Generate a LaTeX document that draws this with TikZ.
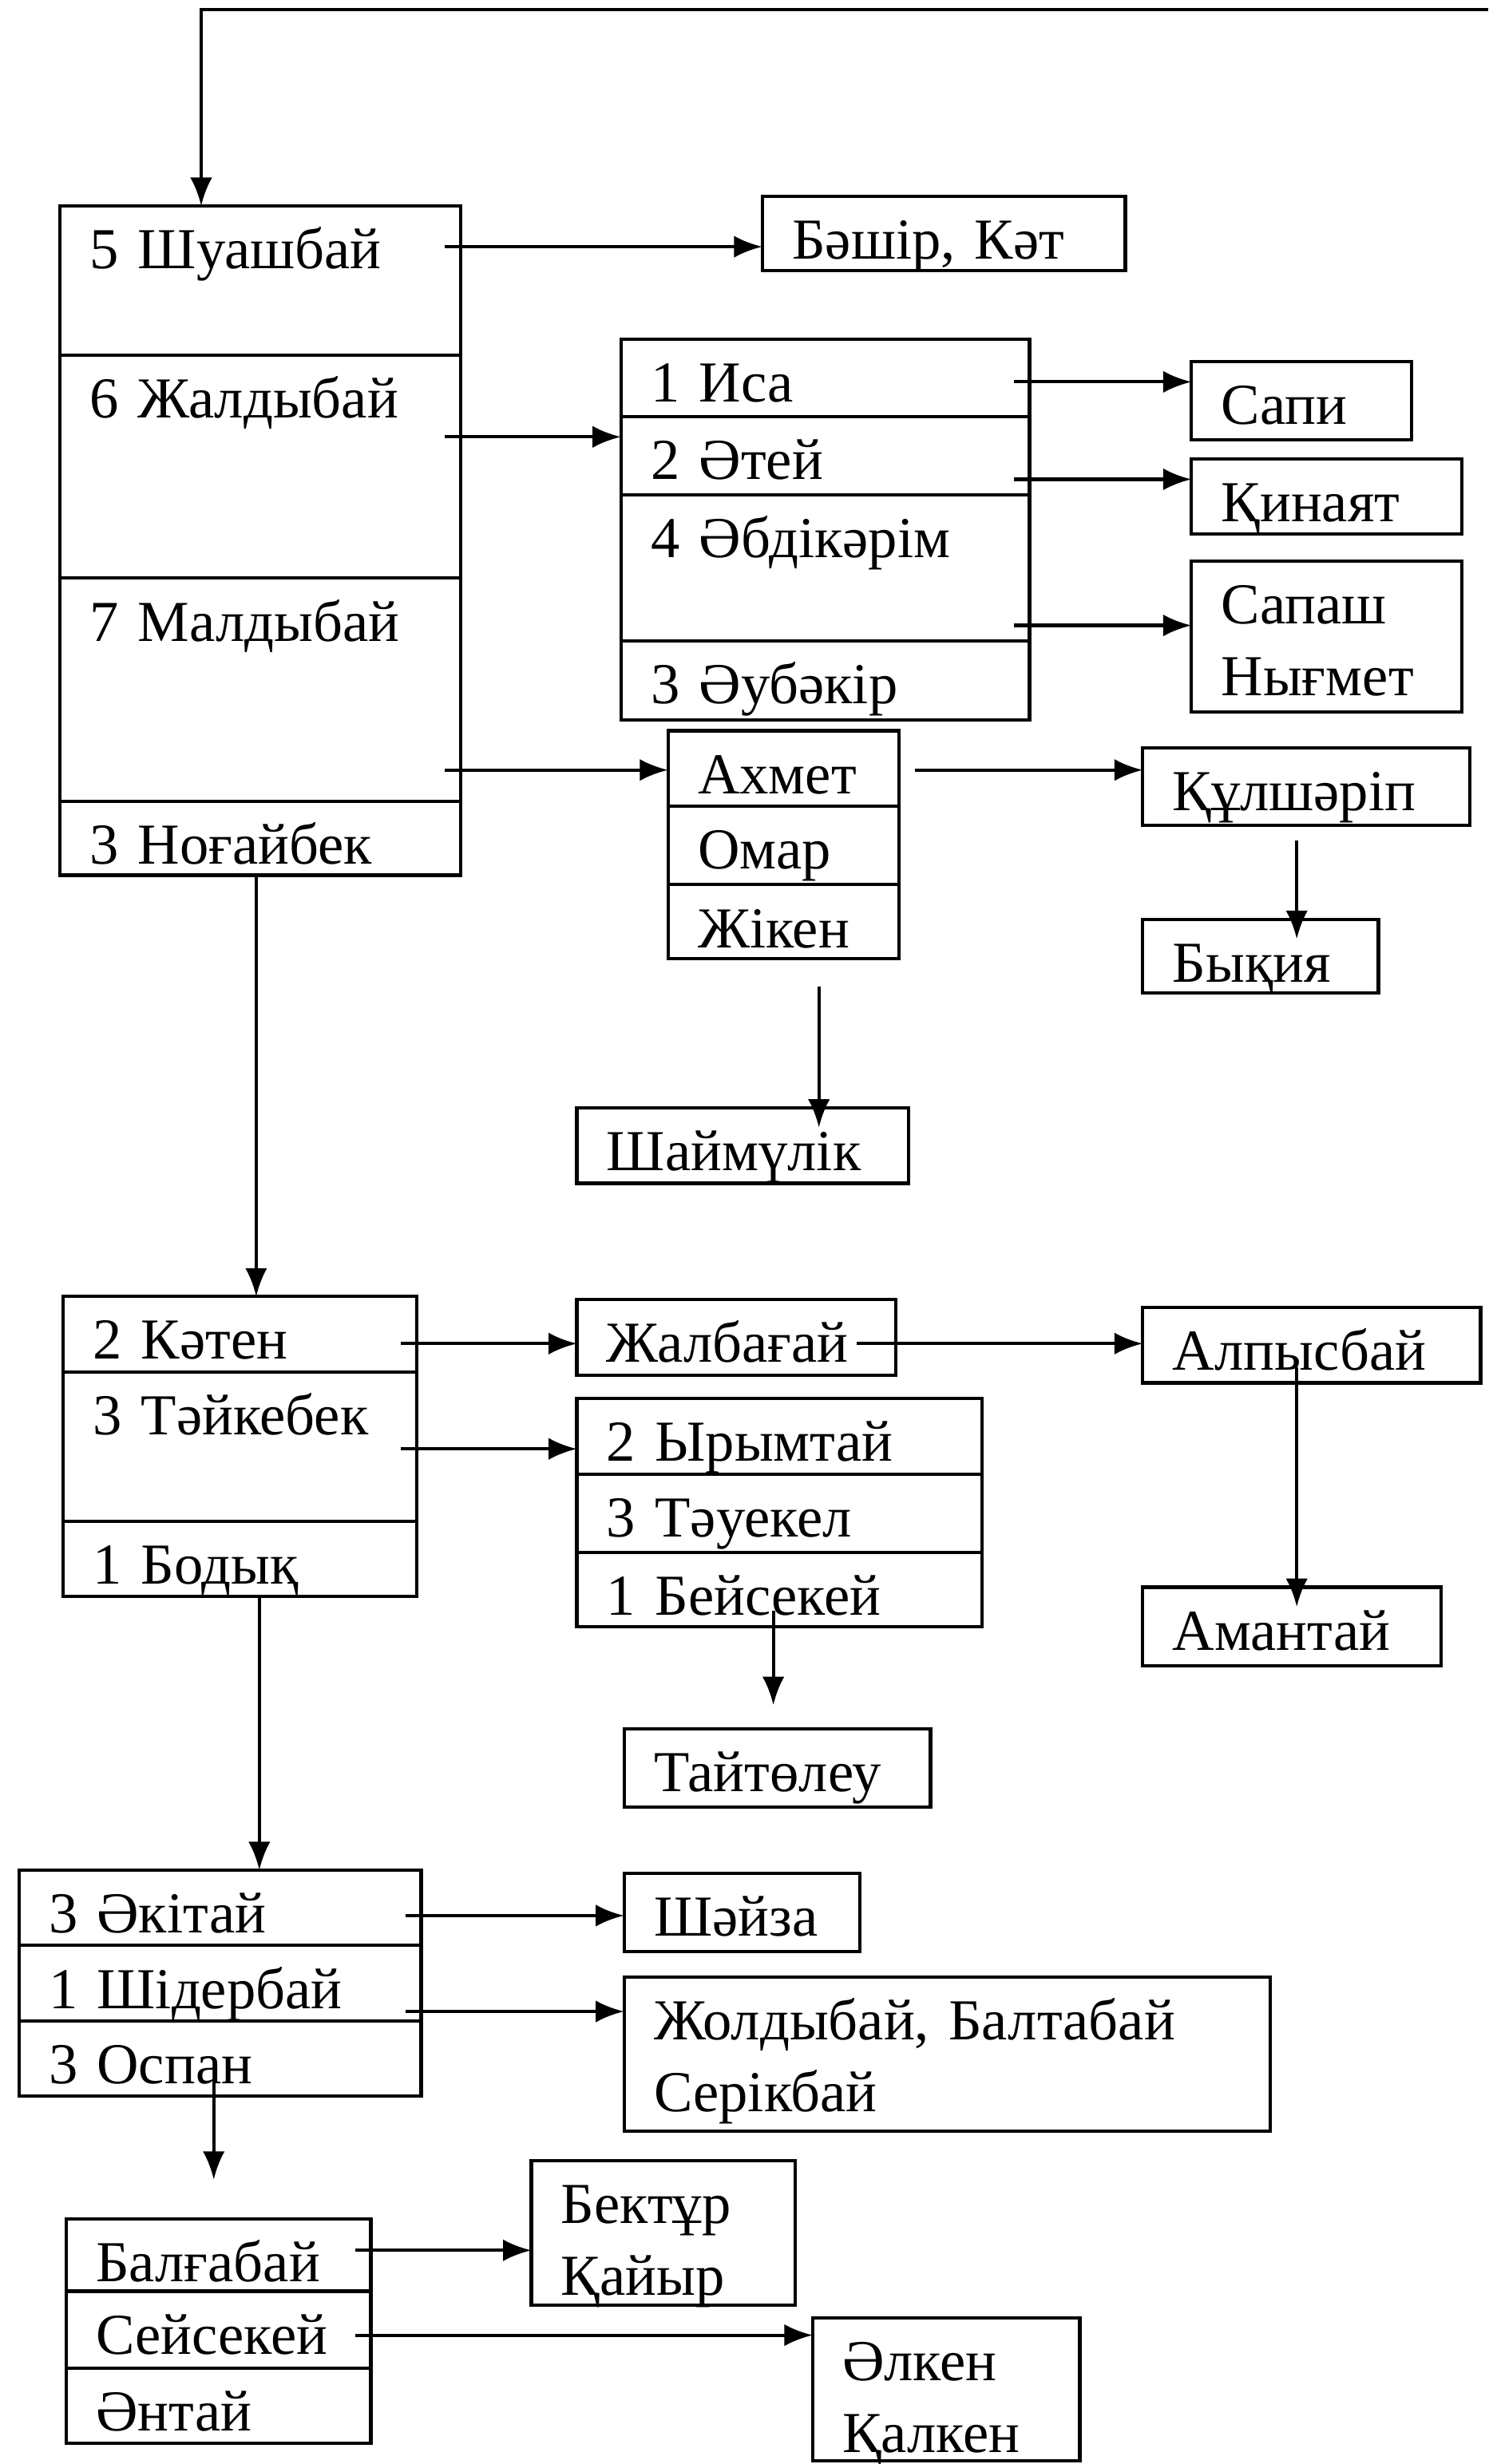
\documentclass[tikz,border=0pt]{standalone}
\usepackage{fontspec}
\setmainfont{Liberation Serif}
\usepackage{tikz}
\usetikzlibrary{arrows.meta}

\newcommand{\boxfont}{\fontsize{21pt}{26pt}\selectfont}

\begin{document}
\begin{tikzpicture}[x=0.02cm, y=-0.02cm, >={Latex[length=0.36cm,width=0.28cm]}, line width=1.2pt,
        cell/.style={rectangle, draw, anchor=north west, outer sep=0pt, inner xsep=0.38cm, inner ysep=0pt, text height=0.8cm, align=left, font=\boxfont},
        link/.style={->},
        inside/.style={shorten <=-0.2cm}]
    \useasboundingbox (0,0) rectangle (947,1568);

    % Шуашбай ... Ноғайбек
    \node (a1) [cell, text width=4.34cm, text depth=1.10cm] at (38,131) {5 Шуашбай};
    \node (a2) [cell, text width=4.34cm, text depth=2.04cm] at (a1.south west) {6 Жалдыбай};
    \node (a3) [cell, text width=4.34cm, text depth=2.04cm] at (a2.south west) {7 Малдыбай};
    \node (a4) [cell, text width=4.34cm, text depth=0.14cm] at (a3.south west) {3 Ноғайбек};

    \node (b1) [cell, text width=4.44cm, text depth=0.18cm] at (395,216) {1 Иса};
    \node (b2) [cell, text width=4.44cm, text depth=0.20cm] at (b1.south west) {2 Әтей};
    \node (b3) [cell, text width=4.44cm, text depth=1.06cm] at (b2.south west) {4 Әбдікәрім};
    \node (b4) [cell, text width=4.44cm, text depth=0.20cm] at (b3.south west) {3 Әубәкір};

    \node (c1) [cell, text width=2.18cm, text depth=0.16cm] at (425,465) {Ахмет};
    \node (c2) [cell, text width=2.18cm, text depth=0.20cm] at (c1.south west) {Омар};
    \node (c3) [cell, text width=2.18cm, text depth=0.14cm] at (c2.south west) {Жікен};

    \node (bk) [cell, text width=3.86cm, text depth=0.14cm] at (485,125) {Бәшір, Кәт};
    \node (sapi) [cell, text width=2.04cm, text depth=0.20cm] at (758,230) {Сапи};
    \node (kin) [cell, text width=2.68cm, text depth=0.16cm] at (758,292) {Қинаят};
    \node (sap) [cell, text width=2.68cm, text depth=1.12cm] at (758,357) {Сапаш\\Нығмет};
    \node (kul) [cell, text width=3.40cm, text depth=0.18cm] at (727,476) {Құлшәріп};
    \node (byk) [cell, text width=2.24cm, text depth=0.14cm] at (727,585) {Бықия};
    \node (shm) [cell, text width=3.46cm, text depth=0.16cm] at (367,705) {Шаймүлік};

    % Кәтен ... Бодық
    \node (d1) [cell, text width=3.74cm, text depth=0.16cm] at (40,825) {2 Кәтен};
    \node (d2) [cell, text width=3.74cm, text depth=1.10cm] at (d1.south west) {3 Тәйкебек};
    \node (d3) [cell, text width=3.74cm, text depth=0.16cm] at (d2.south west) {1 Бодық};

    \node (e1) [cell, text width=4.40cm, text depth=0.16cm] at (367,890) {2 Ырымтай};
    \node (e2) [cell, text width=4.40cm, text depth=0.20cm] at (e1.south west) {3 Тәуекел};
    \node (e3) [cell, text width=4.40cm, text depth=0.14cm] at (e2.south west) {1 Бейсекей};

    \node (zhal) [cell, text width=3.30cm, text depth=0.16cm] at (367,827) {Жалбағай};
    \node (alp) [cell, text width=3.54cm, text depth=0.16cm] at (727,832) {Алпысбай};
    \node (aman) [cell, text width=3.04cm, text depth=0.20cm] at (727,1010) {Амантай};
    \node (tai) [cell, text width=3.14cm, text depth=0.20cm] at (397,1100) {Тайтөлеу};

    % Әкітай ... Оспан
    \node (f1) [cell, text width=4.36cm, text depth=0.16cm] at (12,1190) {3 Әкітай};
    \node (f2) [cell, text width=4.36cm, text depth=0.16cm] at (f1.south west) {1 Шідербай};
    \node (f3) [cell, text width=4.36cm, text depth=0.16cm] at (f2.south west) {3 Оспан};

    \node (shz) [cell, text width=2.24cm, text depth=0.20cm] at (397,1192) {Шәйза};
    \node (zhol) [cell, text width=7.46cm, text depth=1.16cm] at (397,1258) {Жолдыбай, Балтабай\\Серікбай};

    \node (g1) [cell, text width=3.12cm, text depth=0.12cm] at (42,1412) {Балғабай};
    \node (g2) [cell, text width=3.12cm, text depth=0.18cm] at (g1.south west) {Сейсекей};
    \node (g3) [cell, text width=3.12cm, text depth=0.16cm] at (g2.south west) {Әнтай};

    \node (bek) [cell, text width=2.60cm, text depth=1.04cm] at (338,1375) {Бектұр\\Қайыр};
    \node (alk) [cell, text width=2.64cm, text depth=1.02cm] at (517,1475) {Әлкен\\Қалкен};

    \coordinate (edge) at (947,6);

    \draw[link] (edge) -| (a1.north -| 128,0);
    \draw[link, inside] (a1.east |- 0,157) -- (bk.west |- 0,157);
    \draw[link, inside] (a2.east |- 0,278) -- (b2.west |- 0,278);
    \draw[link, inside] (a3.east |- 0,490) -- (c1.west |- 0,490);
    \draw[link] (a4.south -| 163,0) -- (d1.north -| 163,0);
    \draw[link, inside] (b1.east |- 0,243) -- (sapi.west |- 0,243);
    \draw[link, inside] (b2.east |- 0,305) -- (kin.west |- 0,305);
    \draw[link, inside] (b3.east |- 0,398) -- (sap.west |- 0,398);
    \draw[link, shorten <=0.2cm] (c1.east |- 0,490) -- (kul.west |- 0,490);
    \draw[link, shorten <=0.2cm, shorten >=-0.25cm] (kul.south -| 825,0) -- (byk.north -| 825,0);
    \draw[link, shorten <=0.36cm, shorten >=-0.25cm] (c3.south -| 521,0) -- (shm.north -| 521,0);
    \draw[link, inside] (d1.east |- 0,855) -- (zhal.west |- 0,855);
    \draw[link, shorten <=-0.5cm] (zhal.east |- 0,855) -- (alp.west |- 0,855);
    \draw[link, inside, shorten >=-0.25cm] (alp.south -| 825,0) -- (aman.north -| 825,0);
    \draw[link, inside] (d2.east |- 0,922) -- (e1.west |- 0,922);
    \draw[link, inside, shorten >=0.3cm] (e3.south -| 492,0) -- (tai.north -| 492,0);
    \draw[link] (d3.south -| 165,0) -- (f1.north -| 165,0);
    \draw[link, inside] (f1.east |- 0,1219) -- (shz.west |- 0,1219);
    \draw[link, inside] (f2.east |- 0,1280) -- (zhol.west |- 0,1280);
    \draw[link, inside, shorten >=0.5cm] (f3.south -| 136,0) -- (g1.north -| 136,0);
    \draw[link, inside] (g1.east |- 0,1432) -- (bek.west |- 0,1432);
    \draw[link, inside] (g2.east |- 0,1486) -- (alk.west |- 0,1486);
\end{tikzpicture}
\end{document}
